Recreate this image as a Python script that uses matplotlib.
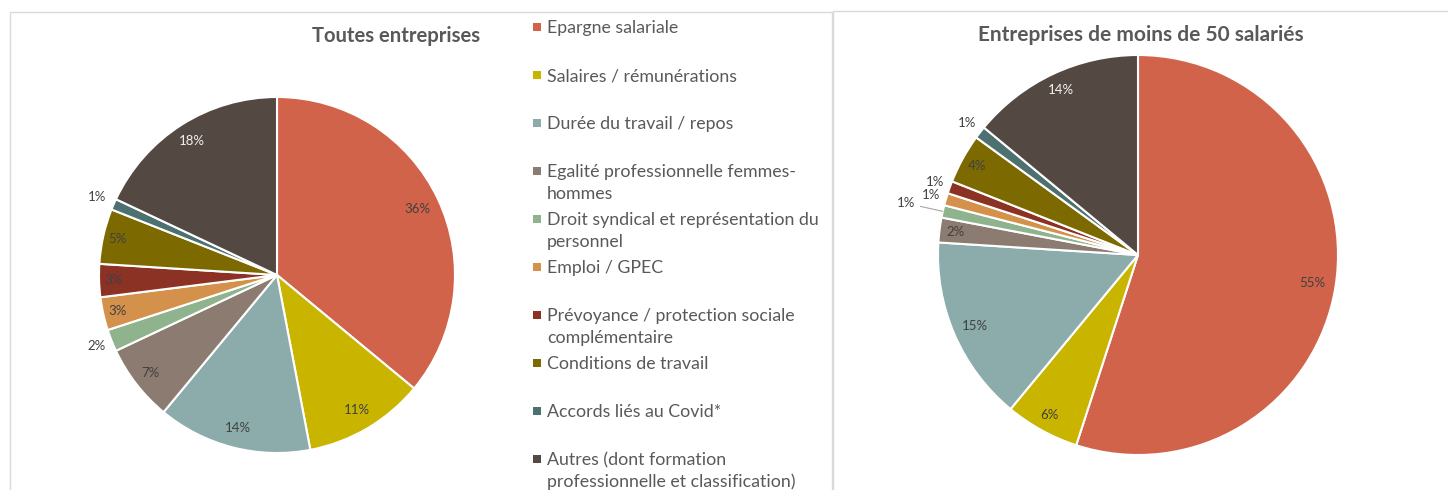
import numpy as np
import matplotlib.pyplot as plt
from matplotlib.patches import Rectangle

categories = ["Epargne salariale", "Salaires / rémunérations", "Durée du travail / repos",
              "Egalité professionnelle femmes-\nhommes",
              "Droit syndical et représentation du\npersonnel",
              "Emploi / GPEC", "Prévoyance / protection sociale\ncomplémentaire",
              "Conditions de travail", "Accords liés au Covid*",
              "Autres (dont formation\nprofessionnelle et classification)"]
toutes = [36, 11, 14, 7, 2, 3, 3, 5, 1, 18]
moins50 = [55, 6, 15, 2, 1, 1, 1, 4, 1, 14]
colors = ["#D1634A", "#C9B400", "#8CACAC", "#8C7B70", "#8FB38D",
          "#D4914C", "#8B3224", "#7C6A00", "#4D7070", "#544843"]

# radial position of each percentage label (fraction of radius)
dist_left = [0.87, 0.88, 0.89, 0.90, 1.09, 0.92, 0.92, 0.92, 1.10, 0.89]
dist_right = [0.88, 0.915, 0.89, 0.92, 1.19, 1.075, 1.08, 0.92, 1.08, 0.91]

W, H = 1448, 490
fig = plt.figure(figsize=(W / 100, H / 100), dpi=100)
plt.rcParams['font.family'] = ['Lato', 'DejaVu Sans']
txt_col = "#595959"
lab_col = "#404040"


def pie_axes(cx, cy, r):
    return fig.add_axes([(cx - r) / W, (H - cy - r) / H, 2 * r / W, 2 * r / H])


def draw_pie(ax, vals, dists, leader=None):
    wedges, _ = ax.pie(vals, colors=colors, startangle=90, counterclock=False,
                       wedgeprops=dict(edgecolor="white", linewidth=1.5))
    ax.set_xlim(-1, 1)
    ax.set_ylim(-1, 1)
    for i, (w, v, d) in enumerate(zip(wedges, vals, dists)):
        a = np.deg2rad((w.theta1 + w.theta2) / 2)
        pos = (d * np.cos(a), d * np.sin(a))
        col = "#F2F2F2" if i == len(vals) - 1 else lab_col
        if leader is not None and i == leader:
            ax.annotate(f"{v}%", xy=(1.0 * np.cos(a), 1.0 * np.sin(a)), xytext=pos,
                        ha="center", va="center", fontsize=9.5, color=col,
                        arrowprops=dict(arrowstyle="-", color="#A6A6A6", lw=0.8,
                                        shrinkA=2, shrinkB=0))
        else:
            ax.text(*pos, f"{v}%", ha="center", va="center", fontsize=9.5, color=col)


ax1 = pie_axes(277, 275, 178)
draw_pie(ax1, toutes, dist_left)
ax2 = pie_axes(1138, 255, 200)
draw_pie(ax2, moins50, dist_right, leader=4)

# overlay in pixel coordinates: frames, titles, legend
ov = fig.add_axes([0, 0, 1, 1], facecolor="none")
ov.set_xlim(0, W)
ov.set_ylim(H, 0)
ov.axis("off")
frame = "#D9D9D9"
ov.add_patch(Rectangle((10, 12), 822, 500, fill=False, edgecolor=frame, lw=1))
ov.add_patch(Rectangle((833, 11), 640, 500, fill=False, edgecolor=frame, lw=1))

ov.text(396, 36, "Toutes entreprises", ha="center", va="center",
        fontsize=14.6, fontweight="bold", color=txt_col)
ov.text(1141, 35, "Entreprises de moins de 50 salariés", ha="center", va="center",
        fontsize=15, fontweight="bold", color=txt_col)

for i, (lab, c) in enumerate(zip(categories, colors)):
    y = 27 + 48 * i
    ov.add_patch(Rectangle((533, y - 4), 8, 8, facecolor=c, edgecolor="none"))
    for j, line in enumerate(lab.split("\n")):
        ov.text(547, y + 1 + 22 * j, line, ha="left", va="center", fontsize=12.8, color=txt_col)

fig.savefig("out.png", dpi=100)
